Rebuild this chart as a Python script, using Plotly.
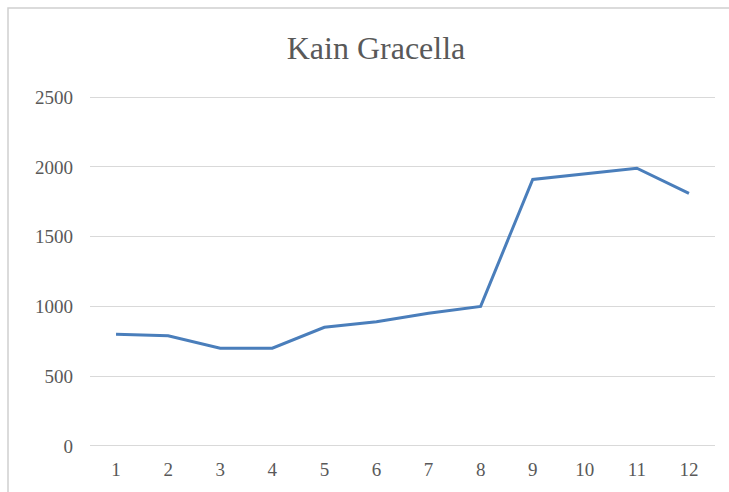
import plotly.graph_objects as go

months = ["1", "2", "3", "4", "5", "6", "7", "8", "9", "10", "11", "12"]
values = [800, 790, 700, 700, 850, 890, 950, 1000, 1910, 1950, 1990, 1810]
y_ticks = [0, 500, 1000, 1500, 2000, 2500]
title_text = "Kain Gracella"

W, H = 729, 492
L, R, T, B = 90, 14, 96, 45
pw, ph = W - L - R, H - T - B

fig = go.Figure()
fig.add_trace(go.Scatter(
    x=months, y=values, mode="lines",
    line=dict(color="#4A7EBB", width=3),
    showlegend=False, hoverinfo="x+y",
))

font_fam = "Liberation Serif, Times New Roman, serif"
fig.update_layout(
    width=W, height=H,
    margin=dict(l=L, r=R, t=T, b=B),
    paper_bgcolor="white", plot_bgcolor="white",
    title=dict(text=title_text, x=(376 - L) / pw, xref="paper", xanchor="center",
               y=1 - 48 / H, yanchor="middle",
               font=dict(family=font_fam, size=32, color="#595959")),
    xaxis=dict(type="category", range=[-0.5, 11.5], showgrid=False, zeroline=False,
               showline=False, ticks="",
               tickfont=dict(family=font_fam, size=19, color="#595959"),
               ticklabelstandoff=9),
    yaxis=dict(range=[-8, 2508], tickvals=y_ticks, showgrid=True, gridcolor="#d9d9d9",
               gridwidth=1, zeroline=False, showline=False, ticks="",
               tickfont=dict(family=font_fam, size=19, color="#595959"),
               ticklabelstandoff=16),
    shapes=[dict(type="rect", xref="paper", yref="paper",
                 x0=(8 - L) / pw, x1=(W + 20 - L) / pw,
                 y0=-(B + 20) / ph, y1=(H - B - 8) / ph,
                 line=dict(color="#d0d0d0", width=1.5), fillcolor="rgba(0,0,0,0)",
                 layer="below")],
)

fig.write_html("out.html")
